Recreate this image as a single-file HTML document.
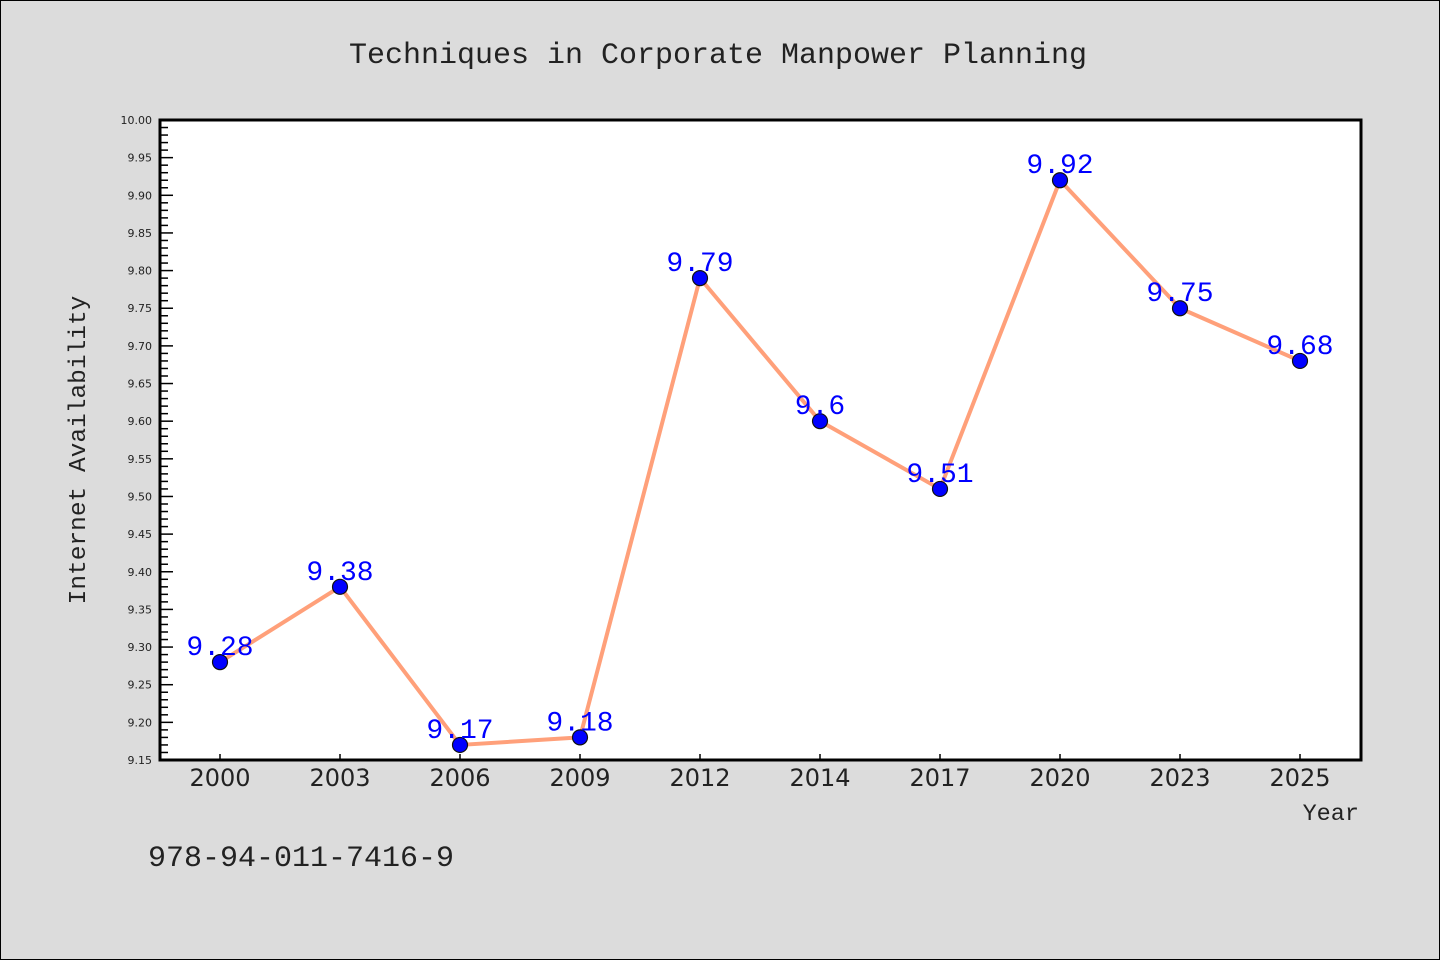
<!DOCTYPE html>
<html><head><meta charset="utf-8"><style>
body{margin:0;background:#dcdcdc}
svg{display:block;font-family:"Liberation Mono","DejaVu Sans Mono",monospace}
</style></head><body>
<svg id="c" width="1440" height="960">
<rect x="0.5" y="0.5" width="1439" height="959" fill="#dcdcdc" stroke="#000" stroke-width="1"/>
<text x="718" y="63" text-anchor="middle" font-size="30" fill="#222">Techniques in Corporate Manpower Planning</text>
<rect x="160" y="120" width="1201" height="640" fill="#fff"/>
<g id="ticks"></g>
<g id="series"></g>
<rect x="160" y="120" width="1201" height="640" fill="none" stroke="#000" stroke-width="3"/>
<text x="85" y="450" text-anchor="middle" font-size="24.5" fill="#222" transform="rotate(-90 85 450)">Internet Availability</text>
<text x="1359" y="820" text-anchor="end" font-size="23.5" fill="#222">Year</text>
<text x="148" y="866" font-size="30" fill="#222">978-94-011-7416-9</text>
</svg>
<script>
const categories=["2000","2003","2006","2009","2012","2014","2017","2020","2023","2025"];
const values=[9.28,9.38,9.17,9.18,9.79,9.6,9.51,9.92,9.75,9.68];
const valueLabels=["9.28","9.38","9.17","9.18","9.79","9.6","9.51","9.92","9.75","9.68"];
const yTicks=["9.15","9.20","9.25","9.30","9.35","9.40","9.45","9.50","9.55","9.60","9.65","9.70","9.75","9.80","9.85","9.90","9.95","10.00"];
const NS="http://www.w3.org/2000/svg";
const yMin=9.15,yMax=10.0,plotTop=120,plotBot=760,plotLeft=160,step=120;
const yS=v=>plotBot-(v-yMin)/(yMax-yMin)*(plotBot-plotTop);
const xS=i=>plotLeft+60+i*step;
function mk(t,a,p){const e=document.createElementNS(NS,t);for(const k in a)e.setAttribute(k,a[k]);p.appendChild(e);return e;}
const tg=document.getElementById('ticks'),sg=document.getElementById('series');
for(let k=0;k<=85;k++){const v=yMin+k*0.01;const major=k%5===0;
 const l=mk('line',{x1:plotLeft,x2:plotLeft+(major?13:8),y1:yS(v),y2:yS(v),stroke:'#000','stroke-width':1.5},tg);
 
 }
yTicks.forEach(s=>{const t=mk('text',{x:152,y:yS(parseFloat(s))+4,'text-anchor':'end','font-size':11,fill:'#222','font-family':'DejaVu Sans, sans-serif'},tg);t.textContent=s;
 
 });
categories.forEach((c,i)=>{const l=mk('line',{x1:xS(i),x2:xS(i),y1:plotBot,y2:plotBot-6,stroke:'#000','stroke-width':1.5},tg);
 
 
 const t=mk('text',{x:xS(i),y:786,'text-anchor':'middle','font-size':24,fill:'#222','font-family':'DejaVu Sans, sans-serif'},tg);t.textContent=c;
 
 });
const pl=mk('polyline',{points:values.map((v,i)=>xS(i)+','+yS(v)).join(' '),fill:'none',stroke:'#ffa07a','stroke-width':4,'stroke-linejoin':'round'},sg);


values.forEach((v,i)=>{const c=mk('circle',{cx:xS(i),cy:yS(v),r:7.5,fill:'#0000ff',stroke:'#111','stroke-width':1.2},sg);
 
 
 const t=mk('text',{x:xS(i),y:yS(v)-7,'text-anchor':'middle','font-size':28,fill:'#0000ff'},sg);t.textContent=valueLabels[i];
 
 });
</script>
</body></html>
